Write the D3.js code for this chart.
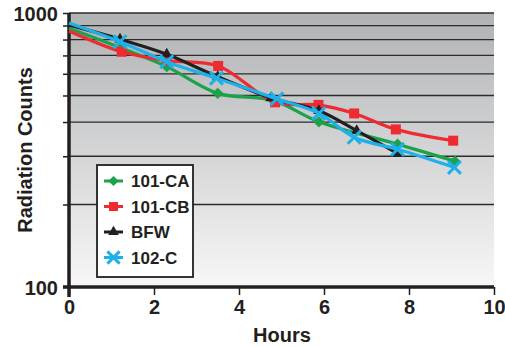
<!DOCTYPE html>
<html>
<head>
<meta charset="utf-8">
<script src="https://cdn.jsdelivr.net/npm/d3@7"></script>
<style>
body { margin: 0; background: #fff; }
text { font-family: "Liberation Sans Narrow", "Arial Narrow", "Liberation Sans", sans-serif; font-weight: bold; fill: #231f20; }
</style>
</head>
<body>
<svg id="chart" width="505" height="347"></svg>
<script>
// values
var seriesNames = ["101-CA", "101-CB", "BFW", "102-C"];
var seriesColors = ["#1ba24b", "#ed2b30", "#231f20", "#1fb0ea"];
var hoursCA = [0, 1.18, 2.3, 3.5, 4.8, 5.88, 7.73, 9.08];
var countsCA = [880, 750, 637, 509, 480, 401, 332, 288];
var hoursCB = [0, 1.24, 2.3, 3.51, 4.85, 5.87, 6.71, 7.69, 9.04];
var countsCB = [860, 722, 670, 641, 472, 462, 430, 376, 342];
var hoursBFW = [0, 1.2, 2.3, 3.5, 4.75, 5.88, 6.77, 7.73];
var countsBFW = [905, 802, 707, 585, 490, 440, 372, 307];
var hours102 = [0, 1.2, 2.3, 3.47, 4.89, 5.88, 6.71, 7.73, 9.07];
var counts102 = [920, 786, 664, 578, 486, 430, 352, 318, 273];
var xTicks = [0, 2, 4, 6, 8, 10];
var yGrid = [200, 300, 400, 500, 600, 700, 800, 900, 1000];
var yTicks = [100, 200, 300, 400, 500, 600, 700, 800, 900, 1000];
var yLabels = [100, 1000];

var svg = d3.select("svg");
var plotLeft = 69, plotRight = 494, plotTop = 13, plotBottom = 287;

var x = d3.scaleLinear().domain([0, 10]).range([plotLeft, plotRight]);
var y = d3.scaleLog().domain([100, 1000]).range([plotBottom, plotTop]);

var defs = svg.append("defs");
var grad = defs.append("linearGradient")
    .attr("id", "bg")
    .attr("x1", 0).attr("y1", 0).attr("x2", 0).attr("y2", 1);
grad.append("stop").attr("offset", "0%").attr("stop-color", "#b1b2b4");
grad.append("stop").attr("offset", "100%").attr("stop-color", "#f7f7f7");

svg.append("rect")
    .attr("x", plotLeft).attr("y", plotTop)
    .attr("width", plotRight - plotLeft).attr("height", plotBottom - plotTop)
    .attr("fill", "url(#bg)");

// grid lines
svg.append("g").selectAll("line")
    .data(yGrid)
    .enter().append("line")
    .attr("x1", plotLeft).attr("x2", plotRight)
    .attr("y1", function(d) { return y(d); })
    .attr("y2", function(d) { return y(d); })
    .attr("stroke", "#2b2b2b")
    .attr("stroke-width", 1.3);

// y axis
var yAxis = d3.axisLeft(y)
    .tickValues(yTicks)
    .tickSize(6)
    .tickFormat(function(d) { return yLabels.indexOf(d) >= 0 ? d : ""; });
var gy = svg.append("g")
    .attr("transform", "translate(" + plotLeft + ",0)")
    .call(yAxis);
gy.select(".domain").remove();
gy.selectAll(".tick line").attr("stroke", "#231f20").attr("stroke-width", 1.5);
gy.selectAll(".tick text").attr("font-size", 20).attr("x", -11).attr("dy", "0.36em")
    .style("font-family", "'Liberation Sans Narrow', 'Arial Narrow', sans-serif");

// x axis
var xAxis = d3.axisBottom(x)
    .tickValues(xTicks)
    .tickSize(8)
    .tickFormat(d3.format("d"));
var gx = svg.append("g")
    .attr("transform", "translate(0," + plotBottom + ")")
    .call(xAxis);
gx.select(".domain").remove();
gx.selectAll(".tick line").attr("stroke", "#231f20").attr("stroke-width", 1.5);
gx.selectAll(".tick text").attr("font-size", 20).attr("y", 13)
    .style("font-family", "'Liberation Sans Narrow', 'Arial Narrow', sans-serif");

// axis lines
svg.append("line")
    .attr("x1", plotLeft).attr("x2", plotLeft)
    .attr("y1", plotTop).attr("y2", plotBottom + 10)
    .attr("stroke", "#231f20").attr("stroke-width", 3.5);
svg.append("line")
    .attr("x1", plotLeft - 6).attr("x2", plotRight)
    .attr("y1", plotBottom).attr("y2", plotBottom)
    .attr("stroke", "#231f20").attr("stroke-width", 3.5);

// series
var series = [
    { name: seriesNames[0], color: seriesColors[0], shape: "diamond", xs: hoursCA, ys: countsCA },
    { name: seriesNames[1], color: seriesColors[1], shape: "square", xs: hoursCB, ys: countsCB },
    { name: seriesNames[2], color: seriesColors[2], shape: "triangle", xs: hoursBFW, ys: countsBFW },
    { name: seriesNames[3], color: seriesColors[3], shape: "cross", xs: hours102, ys: counts102 }
];
series.forEach(function(s) {
    s.points = s.xs.map(function(h, i) { return { h: h, c: s.ys[i] }; });
});

var line = d3.line()
    .x(function(d) { return x(d.h); })
    .y(function(d) { return y(d.c); })
    .curve(d3.curveCatmullRom.alpha(0.5));

function drawMarker(g, shape, color, cx, cy, scale) {
    scale = scale || 1;
    if (shape == "diamond") {
        g.append("rect")
            .attr("x", -4 * scale).attr("y", -4 * scale)
            .attr("width", 8 * scale).attr("height", 8 * scale)
            .attr("transform", "translate(" + cx + "," + cy + ") rotate(45)")
            .attr("fill", color);
    } else if (shape == "square") {
        g.append("rect")
            .attr("x", cx - 5 * scale).attr("y", cy - 5 * scale)
            .attr("width", 10 * scale).attr("height", 10 * scale)
            .attr("fill", color);
    } else if (shape == "triangle") {
        g.append("path")
            .attr("d", d3.symbol().type(d3.symbolTriangle).size(55 * scale)())
            .attr("transform", "translate(" + cx + "," + cy + ")")
            .attr("fill", color);
    } else {
        g.append("path")
            .attr("d", d3.symbol().type(d3.symbolX).size(110 * scale)())
            .attr("transform", "translate(" + cx + "," + cy + ")")
            .attr("fill", "none")
            .attr("stroke", color)
            .attr("stroke-width", 3);
    }
}

series.forEach(function(s) {
    var g = svg.append("g");
    g.append("path")
        .datum(s.points)
        .attr("d", line)
        .attr("fill", "none")
        .attr("stroke", s.color)
        .attr("stroke-width", 3.2);
    s.points.slice(1).forEach(function(p) {
        drawMarker(g, s.shape, s.color, x(p.h), y(p.c));
    });
});

// legend
var legend = svg.append("g");
legend.append("rect")
    .attr("x", 97).attr("y", 165)
    .attr("width", 96).attr("height", 112)
    .attr("fill", "#fff")
    .attr("stroke", "#231f20")
    .attr("stroke-width", 1.8);
series.forEach(function(s, i) {
    var ly = 181 + i * 25.5;
    legend.append("line")
        .attr("x1", 104).attr("x2", 123)
        .attr("y1", ly).attr("y2", ly)
        .attr("stroke", s.color).attr("stroke-width", 3);
    drawMarker(legend, s.shape, s.color, 113.5, ly, 0.9);
    legend.append("text")
        .attr("x", 131).attr("y", ly)
        .attr("dy", "0.36em")
        .attr("font-size", 17)
        .text(s.name);
});

// axis titles
svg.append("text")
    .attr("transform", "translate(32,150) rotate(-90)")
    .attr("text-anchor", "middle")
    .attr("font-size", 20)
    .style("font-family", "'Liberation Sans', Arial, sans-serif")
    .text("Radiation Counts");
svg.append("text")
    .attr("x", 282).attr("y", 342)
    .attr("text-anchor", "middle")
    .attr("font-size", 20)
    .style("font-family", "'Liberation Sans', Arial, sans-serif")
    .text("Hours");
</script>
</body>
</html>
